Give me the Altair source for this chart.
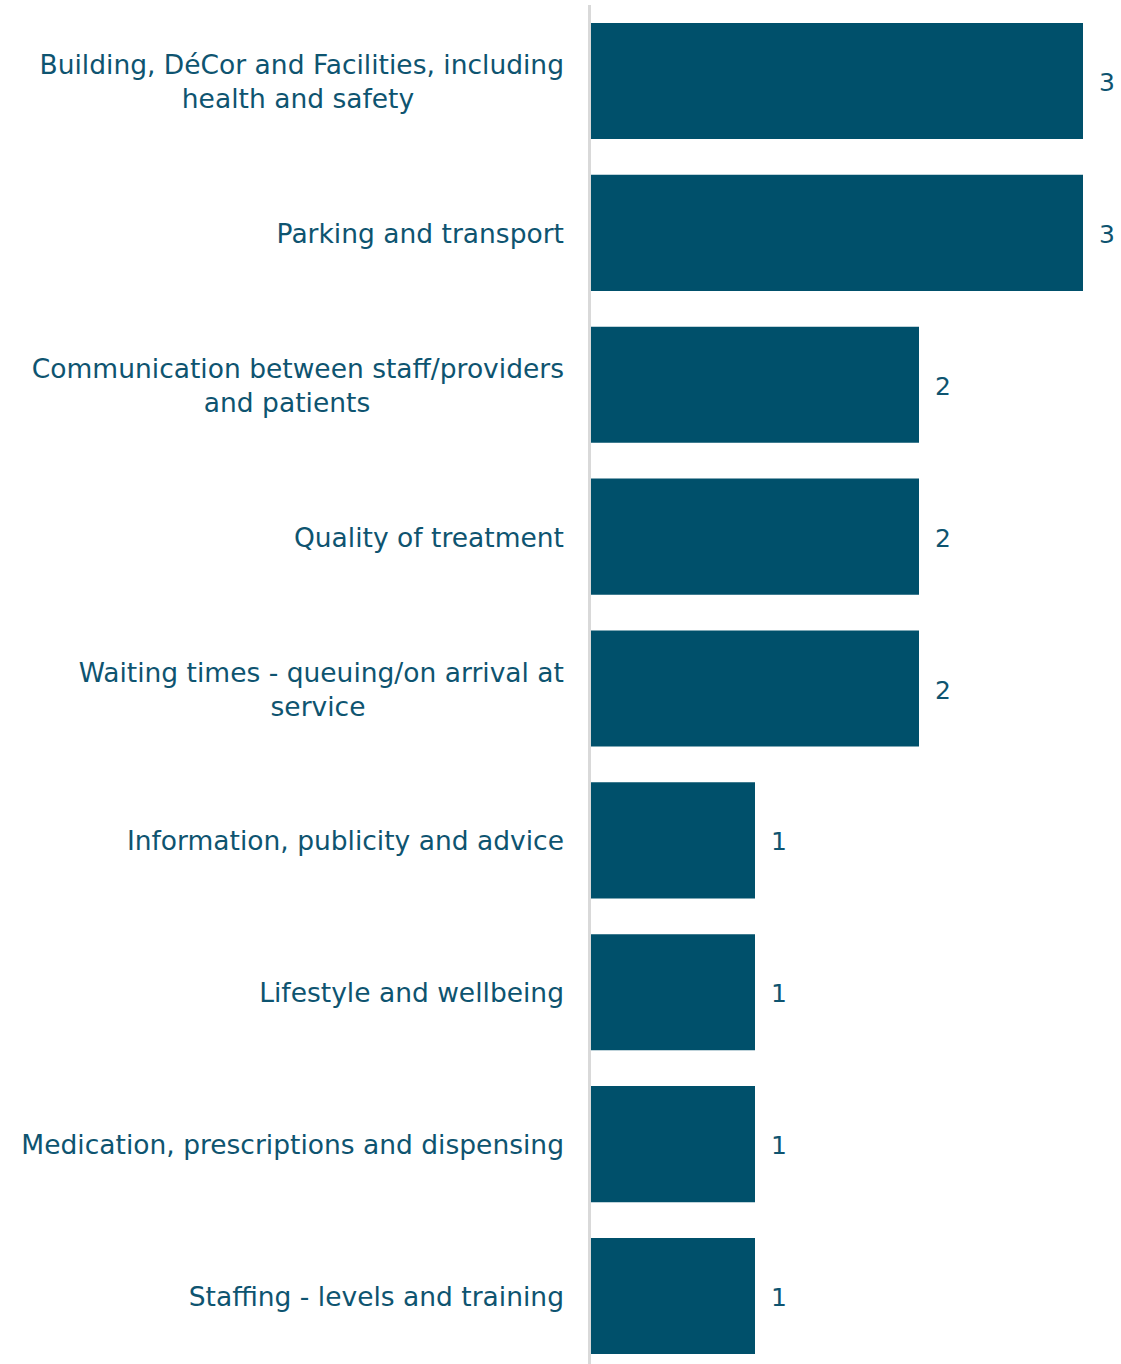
import altair as alt
import pandas as pd

categories = [
    "Building, DéCor and Facilities, including health and safety",
    "Parking and transport",
    "Communication between staff/providers and patients",
    "Quality of treatment",
    "Waiting times - queuing/on arrival at service",
    "Information, publicity and advice",
    "Lifestyle and wellbeing",
    "Medication, prescriptions and dispensing",
    "Staffing - levels and training",
]
values = [3, 3, 2, 2, 2, 1, 1, 1, 1]
line1 = [
    "Building, DéCor and Facilities, including",
    "Parking and transport",
    "Communication between staff/providers",
    "Quality of treatment",
    "Waiting times - queuing/on arrival at",
    "Information, publicity and advice",
    "Lifestyle and wellbeing",
    "Medication, prescriptions and dispensing",
    "Staffing - levels and training",
]
line2 = ["health and safety", "", "and patients", "", "service", "", "", "", ""]

# layout (style) settings, not data
line2_center = {"health and safety": -293, "and patients": -304, "service": -273}

df = pd.DataFrame({"category": categories, "value": values,
                   "line1": line1, "line2": line2})
df["two"] = df["line2"] != ""

BAR = "#00506B"
TXT = "#0E5470"
FONT = "DejaVu Sans"
FS = 26.5
W, H = 492, 1331

y = alt.Y("category:N", sort=categories, title=None,
          scale=alt.Scale(paddingInner=0.236, paddingOuter=0),
          axis=None)

base = alt.Chart(df)

bars = base.mark_bar(color=BAR).encode(
    x=alt.X("value:Q", scale=alt.Scale(domain=[0, 3], nice=False), axis=None),
    y=y,
)
vals = base.mark_text(align="left", baseline="middle", dx=16, dy=2, font=FONT,
                      fontSize=25, color=TXT).encode(
    x=alt.X("value:Q"), y=y, text="value:Q")

single = base.transform_filter("!datum.two").mark_text(
    align="right", baseline="middle", dy=2, font=FONT, fontSize=FS, color=TXT
).encode(x=alt.value(-27), y=y, text="line1:N")

first = base.transform_filter("datum.two").mark_text(
    align="right", baseline="middle", dy=-15, font=FONT, fontSize=FS, color=TXT
).encode(x=alt.value(-27), y=y, text="line1:N")

seconds = []
for t, cx in line2_center.items():
    seconds.append(
        base.transform_filter(alt.datum.line2 == t).mark_text(
            align="center", baseline="middle", dy=19, font=FONT, fontSize=FS,
            color=TXT
        ).encode(x=alt.value(cx), y=y, text="line2:N")
    )

rule = base.mark_rule(color="#D9D9D9", strokeWidth=2.5).encode(
    x=alt.value(-1.5), y=alt.value(-18), y2=alt.value(H + 10))

chart = alt.layer(rule, bars, vals, single, first, *seconds).properties(
    width=W, height=H,
    autosize=alt.AutoSizeParams(type="none"),
    padding={"left": 591, "top": 23, "right": 38, "bottom": 10},
).configure_view(stroke=None)

chart.save("out.html", embed_options={"renderer": "svg", "actions": False})
